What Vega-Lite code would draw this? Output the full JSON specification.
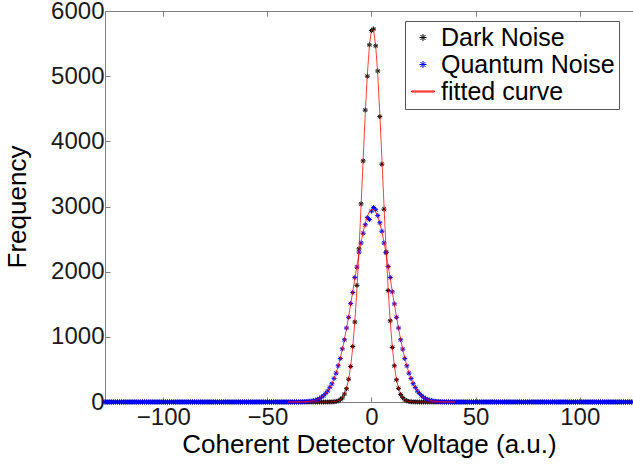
{
"$schema":"https://vega.github.io/schema/vega-lite/v6.json",
"width":528,"height":391,
"autosize":{"type":"none"},
"padding":{"left":105,"top":11,"right":0,"bottom":64},
"background":"white",
"config":{
 "view":{"stroke":"#808080","strokeWidth":1},
 "font":"Liberation Sans",
 "axis":{"domainColor":"#808080","tickColor":"#808080","tickSize":-5,"grid":false,"labelFont":"Liberation Sans","labelFontSize":24,"labelColor":"#1a1a1a","titleFont":"Liberation Sans","titleFontSize":26,"titleFontWeight":"normal","titleColor":"#000000"},
 "legend":{"orient":"none","legendX":300,"legendY":10,"strokeColor":"#555555","fillColor":"white","padding":4,"labelFont":"Liberation Sans","labelFontSize":25,"labelColor":"#000000","labelLimit":0,"symbolSize":49,"symbolStrokeWidth":1,"symbolOffset":1.5,"labelOffset":5.5,"rowPadding":1}
},
"data":{"values":[
{"x":-128,"d":0,"q":0},{"x":-127,"d":0,"q":0},{"x":-126,"d":0,"q":0},{"x":-125,"d":0,"q":0},{"x":-124,"d":0,"q":0},{"x":-123,"d":0,"q":0},{"x":-122,"d":0,"q":0},{"x":-121,"d":0,"q":0},{"x":-120,"d":0,"q":0},{"x":-119,"d":0,"q":0},
{"x":-118,"d":0,"q":0},{"x":-117,"d":0,"q":0},{"x":-116,"d":0,"q":0},{"x":-115,"d":0,"q":0},{"x":-114,"d":0,"q":0},{"x":-113,"d":0,"q":0},{"x":-112,"d":0,"q":0},{"x":-111,"d":0,"q":0},{"x":-110,"d":0,"q":0},{"x":-109,"d":0,"q":0},
{"x":-108,"d":0,"q":0},{"x":-107,"d":0,"q":0},{"x":-106,"d":0,"q":0},{"x":-105,"d":0,"q":0},{"x":-104,"d":0,"q":0},{"x":-103,"d":0,"q":0},{"x":-102,"d":0,"q":0},{"x":-101,"d":0,"q":0},{"x":-100,"d":0,"q":0},{"x":-99,"d":0,"q":0},
{"x":-98,"d":0,"q":0},{"x":-97,"d":0,"q":0},{"x":-96,"d":0,"q":0},{"x":-95,"d":0,"q":0},{"x":-94,"d":0,"q":0},{"x":-93,"d":0,"q":0},{"x":-92,"d":0,"q":0},{"x":-91,"d":0,"q":0},{"x":-90,"d":0,"q":0},{"x":-89,"d":0,"q":0},
{"x":-88,"d":0,"q":0},{"x":-87,"d":0,"q":0},{"x":-86,"d":0,"q":0},{"x":-85,"d":0,"q":0},{"x":-84,"d":0,"q":0},{"x":-83,"d":0,"q":0},{"x":-82,"d":0,"q":0},{"x":-81,"d":0,"q":0},{"x":-80,"d":0,"q":0},{"x":-79,"d":0,"q":0},
{"x":-78,"d":0,"q":0},{"x":-77,"d":0,"q":0},{"x":-76,"d":0,"q":0},{"x":-75,"d":0,"q":0},{"x":-74,"d":0,"q":0},{"x":-73,"d":0,"q":0},{"x":-72,"d":0,"q":0},{"x":-71,"d":0,"q":0},{"x":-70,"d":0,"q":0},{"x":-69,"d":0,"q":0},
{"x":-68,"d":0,"q":0},{"x":-67,"d":0,"q":0},{"x":-66,"d":0,"q":0},{"x":-65,"d":0,"q":0},{"x":-64,"d":0,"q":0},{"x":-63,"d":0,"q":0},{"x":-62,"d":0,"q":0},{"x":-61,"d":0,"q":0},{"x":-60,"d":0,"q":0},{"x":-59,"d":0,"q":0},
{"x":-58,"d":0,"q":0},{"x":-57,"d":0,"q":0},{"x":-56,"d":0,"q":0},{"x":-55,"d":0,"q":0},{"x":-54,"d":0,"q":0},{"x":-53,"d":0,"q":0},{"x":-52,"d":0,"q":0},{"x":-51,"d":0,"q":0},{"x":-50,"d":0,"q":0},{"x":-49,"d":0,"q":0},
{"x":-48,"d":0,"q":0},{"x":-47,"d":0,"q":0},{"x":-46,"d":0,"q":0},{"x":-45,"d":0,"q":0},{"x":-44,"d":0,"q":0},{"x":-43,"d":0,"q":0},{"x":-42,"d":0,"q":0},{"x":-41,"d":0,"q":0},
{"x":-40,"d":0,"q":0,"fd":0,"fq":0},{"x":-39,"d":0,"q":0,"fd":0,"fq":0},{"x":-38,"d":0,"q":0,"fd":0,"fq":0},{"x":-37,"d":0,"q":0,"fd":0,"fq":0},
{"x":-36,"d":0,"q":1,"fd":0,"fq":1},{"x":-35,"d":0,"q":1,"fd":0,"fq":1},{"x":-34,"d":0,"q":2,"fd":0,"fq":2},{"x":-33,"d":0,"q":4,"fd":0,"fq":3},
{"x":-32,"d":0,"q":5,"fd":0,"fq":4},{"x":-31,"d":0,"q":7,"fd":0,"fq":7},{"x":-30,"d":0,"q":11,"fd":0,"fq":10},{"x":-29,"d":0,"q":13,"fd":0,"fq":14},
{"x":-28,"d":0,"q":21,"fd":0,"fq":20},{"x":-27,"d":0,"q":27,"fd":0,"fq":28},{"x":-26,"d":0,"q":41,"fd":0,"fq":39},{"x":-25,"d":0,"q":51,"fd":0,"fq":53},
{"x":-24,"d":0,"q":75,"fd":0,"fq":73},{"x":-23,"d":0,"q":96,"fd":0,"fq":98},{"x":-22,"d":0,"q":133,"fd":0,"fq":130},{"x":-21,"d":0,"q":168,"fd":0,"fq":171},
{"x":-20,"d":1,"q":225,"fd":1,"fq":221},{"x":-19,"d":2,"q":279,"fd":2,"fq":283},{"x":-18,"d":3,"q":362,"fd":4,"fq":358},{"x":-17,"d":9,"q":443,"fd":9,"fq":447},
{"x":-16,"d":17,"q":556,"fd":18,"fq":551},{"x":-15,"d":37,"q":668,"fd":35,"fq":672},{"x":-14,"d":63,"q":815,"fd":66,"fq":808},{"x":-13,"d":122,"q":955,"fd":119,"fq":961},
{"x":-12,"d":203,"q":1135,"fd":207,"fq":1128},{"x":-11,"d":350,"q":1300,"fd":345,"fq":1308},{"x":-10,"d":546,"q":1510,"fd":551,"fq":1499},{"x":-9,"d":851,"q":1680,"fd":843,"fq":1696},
{"x":-8,"d":1228,"q":1910,"fd":1236,"fq":1895},{"x":-7,"d":1790,"q":2070,"fd":1737,"fq":2092},{"x":-6,"d":2350,"q":2300,"fd":2339,"fq":2280},{"x":-5,"d":3040,"q":2440,"fd":3018,"fq":2456},
{"x":-4,"d":3700,"q":2590,"fd":3732,"fq":2612},{"x":-3,"d":4480,"q":2720,"fd":4424,"fq":2744},{"x":-2,"d":5000,"q":2830,"fd":5026,"fq":2848},{"x":-1,"d":5480,"q":2800,"fd":5472,"fq":2919},
{"x":0,"d":5700,"q":2930,"fd":5710,"fq":2955},{"x":1,"d":5723,"q":2985,"fd":5710,"fq":2955},{"x":2,"d":5465,"q":2950,"fd":5472,"fq":2919},{"x":3,"d":5080,"q":2860,"fd":5026,"fq":2848},
{"x":4,"d":4380,"q":2750,"fd":4424,"fq":2744},{"x":5,"d":3650,"q":2620,"fd":3732,"fq":2612},{"x":6,"d":2960,"q":2440,"fd":3018,"fq":2456},{"x":7,"d":2300,"q":2290,"fd":2339,"fq":2280},
{"x":8,"d":1710,"q":2080,"fd":1737,"fq":2092},{"x":9,"d":1245,"q":1910,"fd":1236,"fq":1895},{"x":10,"d":838,"q":1690,"fd":843,"fq":1696},{"x":11,"d":555,"q":1505,"fd":551,"fq":1499},
{"x":12,"d":340,"q":1300,"fd":345,"fq":1308},{"x":13,"d":210,"q":1135,"fd":207,"fq":1128},{"x":14,"d":116,"q":955,"fd":119,"fq":961},{"x":15,"d":68,"q":812,"fd":66,"fq":808},
{"x":16,"d":33,"q":668,"fd":35,"fq":672},{"x":17,"d":19,"q":555,"fd":18,"fq":551},{"x":18,"d":8,"q":443,"fd":9,"fq":447},{"x":19,"d":4,"q":360,"fd":4,"fq":358},
{"x":20,"d":2,"q":281,"fd":2,"fq":283},{"x":21,"d":1,"q":224,"fd":1,"fq":221},{"x":22,"d":0,"q":168,"fd":0,"fq":171},{"x":23,"d":0,"q":132,"fd":0,"fq":130},
{"x":24,"d":0,"q":97,"fd":0,"fq":98},{"x":25,"d":0,"q":74,"fd":0,"fq":73},{"x":26,"d":0,"q":52,"fd":0,"fq":53},{"x":27,"d":0,"q":40,"fd":0,"fq":39},
{"x":28,"d":0,"q":27,"fd":0,"fq":28},{"x":29,"d":0,"q":21,"fd":0,"fq":20},{"x":30,"d":0,"q":13,"fd":0,"fq":14},{"x":31,"d":0,"q":10,"fd":0,"fq":10},
{"x":32,"d":0,"q":6,"fd":0,"fq":7},{"x":33,"d":0,"q":4,"fd":0,"fq":4},{"x":34,"d":0,"q":3,"fd":0,"fq":3},{"x":35,"d":0,"q":2,"fd":0,"fq":2},
{"x":36,"d":0,"q":1,"fd":0,"fq":1},{"x":37,"d":0,"q":1,"fd":0,"fq":1},{"x":38,"d":0,"q":0,"fd":0,"fq":0},{"x":39,"d":0,"q":0,"fd":0,"fq":0},{"x":40,"d":0,"q":0,"fd":0,"fq":0},
{"x":41,"d":0,"q":0},{"x":42,"d":0,"q":0},{"x":43,"d":0,"q":0},{"x":44,"d":0,"q":0},{"x":45,"d":0,"q":0},{"x":46,"d":0,"q":0},{"x":47,"d":0,"q":0},{"x":48,"d":0,"q":0},{"x":49,"d":0,"q":0},{"x":50,"d":0,"q":0},
{"x":51,"d":0,"q":0},{"x":52,"d":0,"q":0},{"x":53,"d":0,"q":0},{"x":54,"d":0,"q":0},{"x":55,"d":0,"q":0},{"x":56,"d":0,"q":0},{"x":57,"d":0,"q":0},{"x":58,"d":0,"q":0},{"x":59,"d":0,"q":0},{"x":60,"d":0,"q":0},
{"x":61,"d":0,"q":0},{"x":62,"d":0,"q":0},{"x":63,"d":0,"q":0},{"x":64,"d":0,"q":0},{"x":65,"d":0,"q":0},{"x":66,"d":0,"q":0},{"x":67,"d":0,"q":0},{"x":68,"d":0,"q":0},{"x":69,"d":0,"q":0},{"x":70,"d":0,"q":0},
{"x":71,"d":0,"q":0},{"x":72,"d":0,"q":0},{"x":73,"d":0,"q":0},{"x":74,"d":0,"q":0},{"x":75,"d":0,"q":0},{"x":76,"d":0,"q":0},{"x":77,"d":0,"q":0},{"x":78,"d":0,"q":0},{"x":79,"d":0,"q":0},{"x":80,"d":0,"q":0},
{"x":81,"d":0,"q":0},{"x":82,"d":0,"q":0},{"x":83,"d":0,"q":0},{"x":84,"d":0,"q":0},{"x":85,"d":0,"q":0},{"x":86,"d":0,"q":0},{"x":87,"d":0,"q":0},{"x":88,"d":0,"q":0},{"x":89,"d":0,"q":0},{"x":90,"d":0,"q":0},
{"x":91,"d":0,"q":0},{"x":92,"d":0,"q":0},{"x":93,"d":0,"q":0},{"x":94,"d":0,"q":0},{"x":95,"d":0,"q":0},{"x":96,"d":0,"q":0},{"x":97,"d":0,"q":0},{"x":98,"d":0,"q":0},{"x":99,"d":0,"q":0},{"x":100,"d":0,"q":0},
{"x":101,"d":0,"q":0},{"x":102,"d":0,"q":0},{"x":103,"d":0,"q":0},{"x":104,"d":0,"q":0},{"x":105,"d":0,"q":0},{"x":106,"d":0,"q":0},{"x":107,"d":0,"q":0},{"x":108,"d":0,"q":0},{"x":109,"d":0,"q":0},{"x":110,"d":0,"q":0},
{"x":111,"d":0,"q":0},{"x":112,"d":0,"q":0},{"x":113,"d":0,"q":0},{"x":114,"d":0,"q":0},{"x":115,"d":0,"q":0},{"x":116,"d":0,"q":0},{"x":117,"d":0,"q":0},{"x":118,"d":0,"q":0},{"x":119,"d":0,"q":0},{"x":120,"d":0,"q":0},
{"x":121,"d":0,"q":0},{"x":122,"d":0,"q":0},{"x":123,"d":0,"q":0},{"x":124,"d":0,"q":0},{"x":125,"d":0,"q":0}
]},
"layer":[
 {"mark":{"type":"point","filled":false,"size":25,"strokeWidth":1,"opacity":1},
  "encoding":{
   "x":{"field":"x","type":"quantitative","scale":{"domain":[-128,125.6],"nice":false,"zero":false},"axis":{"title":"Coherent Detector Voltage (a.u.)","values":[-100,-50,0,50,100],"labelPadding":8,"titlePadding":2}},
   "y":{"field":"d","type":"quantitative","scale":{"domain":[0,6000],"nice":false},"axis":{"title":"Frequency","format":"d","values":[0,1000,2000,3000,4000,5000,6000],"labelPadding":6,"titlePadding":20}},
   "color":{"datum":"Dark Noise","scale":{"domain":["Dark Noise","Quantum Noise","fitted curve"],"range":["#000000","#0000ff","#ff0000"]},"legend":{"title":null}},
   "shape":{"datum":"Dark Noise","scale":{"domain":["Dark Noise","Quantum Noise","fitted curve"],"range":["M-1,0L1,0M0,-1L0,1M-0.7,-0.7L0.7,0.7M-0.7,0.7L0.7,-0.7","M-1,0L1,0M0,-1L0,1M-0.7,-0.7L0.7,0.7M-0.7,0.7L0.7,-0.7","M-3.29,-0.14L3.29,-0.14L3.29,0.14L-3.29,0.14Z"]},"legend":{"title":null}}
  }},
 {"mark":{"type":"point","filled":false,"size":25,"strokeWidth":1,"opacity":1},
  "encoding":{
   "x":{"field":"x","type":"quantitative","axis":{"orient":"top","labels":false,"title":null,"domain":false,"values":[-100,-50,0,50,100]}},
   "y":{"field":"q","type":"quantitative","axis":null},
   "color":{"datum":"Quantum Noise"},
   "shape":{"datum":"Quantum Noise"}
  }},
 {"transform":[{"fold":["fd","fq"],"as":["k","v"]}],
  "mark":{"type":"line","strokeWidth":1,"opacity":0.75},
  "encoding":{
   "x":{"field":"x","type":"quantitative","axis":null},
   "y":{"field":"v","type":"quantitative","axis":null},
   "detail":{"field":"k"},
   "color":{"datum":"fitted curve"}
  }}
],
"resolve":{"axis":{"x":"independent","y":"independent"}}
}
